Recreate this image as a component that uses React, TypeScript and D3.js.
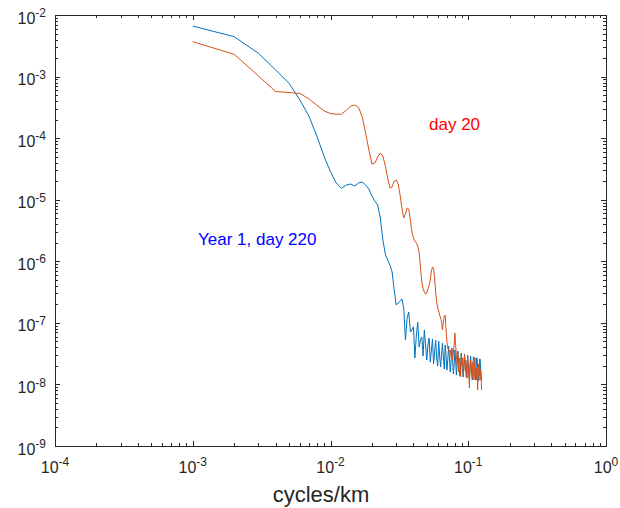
import React from 'react';
import * as d3 from 'd3';

// frequency step (cycles/km); sample i has frequency (i+1)*DF
const DF = 0.001;

// Year 1, day 220 spectrum (blue)
const year1Day220: number[] = [
  6.62e-3, 4.44e-3, 2.39e-3, 1.28e-3, 7.78e-4, 4.16e-4, 2.23e-4, 1.05e-4, 5.0e-5, 2.85e-5,
  1.87e-5, 1.53e-5, 1.73e-5, 1.80e-5, 1.67e-5, 1.87e-5, 1.94e-5, 1.73e-5, 1.49e-5, 1.15e-5,
  9.5e-6, 8.2e-6, 5.05e-6, 2.22e-6, 1.31e-6, 1.05e-6, 8.7e-7, 6.7e-7, 3.42e-7, 1.95e-7,
  2.1e-7, 2.26e-7, 2.44e-7, 1.74e-7, 5.3e-8, 1.2e-7, 1.5e-7, 7.1e-8, 7.65e-8, 8.6e-8,
  2.69e-8, 6.35e-8, 1.03e-7, 4.05e-8, 5.3e-8, 5.9e-8, 2.9e-8, 7.65e-8, 4.37e-8, 2.49e-8,
  4.37e-8, 5.67e-8, 2.31e-8, 3.62e-8, 5.47e-8, 2.15e-8, 3.36e-8, 5.26e-8, 2.69e-8, 1.99e-8,
  5.07e-8, 2.90e-8, 1.92e-8, 3.01e-8, 4.71e-8, 2.69e-8, 1.78e-8, 4.37e-8, 2.90e-8, 1.71e-8,
  2.49e-8, 4.21e-8, 2.79e-8, 1.59e-8, 2.31e-8, 3.91e-8, 2.49e-8, 1.48e-8, 2.15e-8, 3.62e-8,
  2.40e-8, 1.42e-8, 2.07e-8, 3.49e-8, 2.49e-8, 1.78e-8, 1.37e-8, 2.15e-8, 3.24e-8, 2.31e-8,
  1.65e-8, 1.32e-8, 1.99e-8, 3.12e-8, 2.23e-8, 1.59e-8, 1.27e-8, 1.92e-8, 3.01e-8, 2.15e-8,
  1.59e-8, 1.22e-8, 1.85e-8, 2.90e-8, 2.07e-8, 1.48e-8, 1.18e-8, 1.78e-8, 2.79e-8, 2.79e-8,
  1.99e-8, 1.42e-8, 1.18e-8, 1.71e-8, 2.69e-8, 2.69e-8, 1.85e-8, 1.37e-8, 1.14e-8, 1.65e-8,
  2.59e-8, 2.59e-8, 1.85e-8, 1.32e-8, 1.14e-8,
];

// day 20 spectrum (orange)
const day20: number[] = [
  3.68e-3, 2.30e-3, 1.02e-3, 5.72e-4, 5.51e-4, 5.31e-4, 4.32e-4, 3.39e-4, 2.76e-4, 2.51e-4,
  2.44e-4, 2.46e-4, 2.81e-4, 3.33e-4, 3.45e-4, 3.15e-4, 2.21e-4, 1.21e-4, 6.41e-5, 3.80e-5,
  3.94e-5, 4.94e-5, 5.74e-5, 5.13e-5, 3.53e-5, 2.25e-5, 1.55e-5, 1.61e-5, 2.01e-5, 2.09e-5,
  1.80e-5, 1.19e-5, 7.33e-6, 5.05e-6, 5.86e-6, 7.33e-6, 7.06e-6, 4.68e-6, 2.99e-6, 2.39e-6,
  2.13e-6, 1.98e-6, 1.77e-6, 1.42e-6, 7.78e-7, 4.79e-7, 3.55e-7, 3.17e-7, 2.94e-7, 3.05e-7,
  3.55e-7, 4.12e-7, 4.97e-7, 6.95e-7, 8.07e-7, 7.78e-7, 5.35e-7, 3.17e-7, 2.18e-7, 1.74e-7,
  1.56e-7, 1.34e-7, 1.20e-7, 1.03e-7, 7.66e-8, 1.03e-7, 1.29e-7, 1.34e-7, 7.66e-8, 4.89e-8,
  3.91e-8, 3.62e-8, 3.36e-8, 3.62e-8, 2.90e-8, 3.91e-8, 2.49e-8, 3.36e-8, 4.37e-8, 6.84e-8,
  4.37e-8, 2.90e-8, 2.07e-8, 3.36e-8, 1.59e-8, 2.69e-8, 2.31e-8, 1.32e-8, 3.01e-8, 1.99e-8,
  2.69e-8, 1.42e-8, 2.31e-8, 3.01e-8, 1.71e-8, 2.49e-8, 1.99e-8, 1.27e-8, 2.90e-8, 1.85e-8,
  1.37e-8, 8.75e-9, 2.07e-8, 2.49e-8, 1.59e-8, 2.07e-8, 1.27e-8, 2.31e-8, 1.71e-8, 1.18e-8,
  1.99e-8, 2.69e-8, 1.48e-8, 1.85e-8, 1.18e-8, 1.71e-8, 8.11e-9, 1.59e-8, 2.15e-8, 1.37e-8,
  1.85e-8, 1.18e-8, 1.71e-8, 1.37e-8, 8.11e-9,
];

const xExponents = [-4, -3, -2, -1, 0];
const yExponents = [-9, -8, -7, -6, -5, -4, -3, -2];
const xLabelText = 'cycles/km';
const blueLabel = 'Year 1, day 220';
const redLabel = 'day 20';

const FONT = "'Liberation Sans', Arial, Helvetica, sans-serif";
const AXIS = '#262626';

export default function App() {
  const W = 620, H = 508;
  const L = 55, R = 606, T = 15, B = 446;
  const x = d3.scaleLog().domain([1e-4, 1]).range([L, R]);
  const y = d3.scaleLog().domain([1e-9, 1e-2]).range([B, T]);
  const freqs = year1Day220.map((_, i) => (i + 1) * DF);

  const line = d3
    .line<number>()
    .x((_, i) => x(freqs[i]))
    .y((d) => y(d));

  const minor = (exps: number[]) => {
    const out: number[] = [];
    for (let k = 0; k < exps.length - 1; k++) {
      for (let m = 2; m <= 9; m++) out.push(m * Math.pow(10, exps[k]));
    }
    return out;
  };
  const xMinor = minor(xExponents);
  const yMinor = minor(yExponents);
  const MAJ = 5, MIN = 3;

  return (
    <svg
      width={W}
      height={H}
      style={{ position: 'absolute', left: 0, top: 0, background: '#fff' }}
      fontFamily={FONT}
    >
      <rect x={0} y={0} width={W} height={H} fill="#fff" />
      <path d={line(year1Day220) || ''} fill="none" stroke="#0072BD" strokeWidth={1} />
      <path d={line(day20) || ''} fill="none" stroke="#D95319" strokeWidth={1} />

      <g stroke={AXIS} strokeWidth={1} shapeRendering="crispEdges">
        <rect x={L} y={T} width={R - L} height={B - T} fill="none" />
        {xExponents.map((e) => {
          const px = Math.round(x(Math.pow(10, e))) + 0.5;
          return (
            <g key={'xm' + e}>
              <line x1={px} x2={px} y1={B} y2={B - MAJ} />
              <line x1={px} x2={px} y1={T} y2={T + MAJ} />
            </g>
          );
        })}
        {xMinor.map((v, i) => {
          const px = Math.round(x(v)) + 0.5;
          return (
            <g key={'xn' + i}>
              <line x1={px} x2={px} y1={B} y2={B - MIN} />
              <line x1={px} x2={px} y1={T} y2={T + MIN} />
            </g>
          );
        })}
        {yExponents.map((e) => {
          const py = Math.round(y(Math.pow(10, e))) + 0.5;
          return (
            <g key={'ym' + e}>
              <line x1={L} x2={L + MAJ} y1={py} y2={py} />
              <line x1={R} x2={R - MAJ} y1={py} y2={py} />
            </g>
          );
        })}
        {yMinor.map((v, i) => {
          const py = Math.round(y(v)) + 0.5;
          return (
            <g key={'yn' + i}>
              <line x1={L} x2={L + MIN} y1={py} y2={py} />
              <line x1={R} x2={R - MIN} y1={py} y2={py} />
            </g>
          );
        })}
      </g>

      <g fill={AXIS}>
        {xExponents.map((e) => (
          <text key={'xl' + e} x={x(Math.pow(10, e))} y={473} textAnchor="middle" fontSize={16}>
            10
            <tspan fontSize={12} dy={-7}>
              {String(e)}
            </tspan>
          </text>
        ))}
        {yExponents.map((e) => (
          <text key={'yl' + e} x={46} y={y(Math.pow(10, e)) + 8.6} textAnchor="end" fontSize={16}>
            10
            <tspan fontSize={12} dy={-6.5}>
              {String(e)}
            </tspan>
          </text>
        ))}
        <text x={321} y={502} textAnchor="middle" fontSize={22}>
          {xLabelText}
        </text>
      </g>

      <text x={429} y={130} fontSize={17} fill="#ff0000">
        {redLabel}
      </text>
      <text x={198} y={245} fontSize={17} fill="#0000ff">
        {blueLabel}
      </text>
    </svg>
  );
}
